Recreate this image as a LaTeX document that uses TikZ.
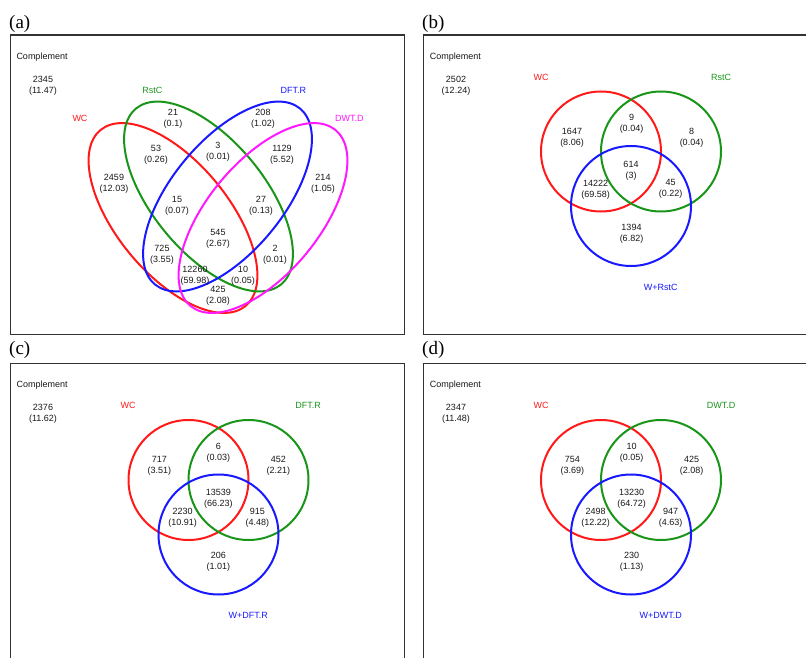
\documentclass[tikz,border=0pt]{standalone}
\usepackage{fontspec}
\setmainfont{Liberation Sans}
\newfontfamily\panelfont{Liberation Serif}

\definecolor{vred}{RGB}{255,25,25}
\definecolor{vgreen}{RGB}{25,150,25}
\definecolor{vblue}{RGB}{25,25,255}
\definecolor{vmag}{RGB}{255,25,255}
\definecolor{txt}{RGB}{25,25,25}
\definecolor{framec}{RGB}{50,50,50}

\begin{document}
\begin{tikzpicture}[x=1pt,y=-1pt,
  setline/.style={line width=2pt},
  cnt/.style={font=\fontsize{9}{11}\selectfont, text=txt, align=center, inner sep=0pt},
  setname/.style={font=\fontsize{9}{11}\selectfont, inner sep=0pt},
  compl/.style={font=\fontsize{9}{11}\selectfont, text=txt, inner sep=0pt, anchor=base west},
  frame/.style={draw=framec, line width=1.5pt},
  panel/.style={font=\panelfont\fontsize{19}{22}\selectfont, anchor=base west, inner sep=0pt, text=black}]

\useasboundingbox (0,0) rectangle (806,658);
\clip (0,0) rectangle (806,658);
\fill[white] (0,0) rectangle (806,658);

% ---------- panel frames and letters ----------
\draw[frame] (10.7,35) rectangle (404.3,334.3);
\draw[frame] (423.3,35) rectangle (815,334.3);
\draw[frame] (10.7,363.3) rectangle (404.3,670);
\draw[frame] (423.3,363.3) rectangle (815,670);
\node[panel] (pa) at (9,28.5) {(a)};
\node[panel] (pb) at (422,28.5) {(b)};
\node[panel] (pc) at (9,354.5) {(c)};
\node[panel] (pd) at (422,354.5) {(d)};

% ---------- (a) four-set diagram ----------
\draw[setline, vred,  rotate around={-50.5:(173,218)}]   (173,218)   ellipse [x radius=114pt, y radius=56pt];
\draw[setline, vgreen,rotate around={-50.5:(208.5,196.5)}] (208.5,196.5) ellipse [x radius=114pt, y radius=56pt];
\draw[setline, vblue, rotate around={50.5:(227.5,196.5)}]  (227.5,196.5) ellipse [x radius=114pt, y radius=56pt];
\draw[setline, vmag,  rotate around={50.5:(263,218)}]    (263,218)   ellipse [x radius=114pt, y radius=56pt];

\node[compl] (a-comp) at (16.3,59.5) {Complement};
\node[cnt] (a-out) at (43,85.5) {2345\\(11.47)};
\node[setname, text=vgreen] (a-rstc) at (152.3,90.7) {RstC};
\node[setname, text=vblue]  (a-dftr) at (293.3,90.7) {DFT.R};
\node[setname, text=vred]   (a-wc)   at (80,118.3) {WC};
\node[setname, text=vmag]   (a-dwtd) at (349.3,118.3) {DWT.D};

\node[cnt] (a-g)    at (173,119)   {21\\(0.1)};
\node[cnt] (a-b)    at (263,119)   {208\\(1.02)};
\node[cnt] (a-rg)   at (156,154.5) {53\\(0.26)};
\node[cnt] (a-gb)   at (218,151.5) {3\\(0.01)};
\node[cnt] (a-bm)   at (282,154.5) {1129\\(5.52)};
\node[cnt] (a-r)    at (114,184)   {2459\\(12.03)};
\node[cnt] (a-m)    at (323,184)   {214\\(1.05)};
\node[cnt] (a-rgb)  at (177,206)   {15\\(0.07)};
\node[cnt] (a-gbm)  at (261,206)   {27\\(0.13)};
\node[cnt] (a-all)  at (218,238.5) {545\\(2.67)};
\node[cnt] (a-rb)   at (162,255)   {725\\(3.55)};
\node[cnt] (a-gm)   at (275,255)   {2\\(0.01)};
\node[cnt] (a-rbm)  at (195,276)   {12260\\(59.98)};
\node[cnt] (a-rgm)  at (243,276)   {10\\(0.05)};
\node[cnt] (a-rm)   at (218,296)   {425\\(2.08)};

% ---------- (b) WC / RstC / W+RstC ----------
\begin{scope}
\draw[setline, vred]   (601,151.5) circle [radius=60pt];
\draw[setline, vgreen] (661,151.5) circle [radius=60pt];
\draw[setline, vblue]  (631,206)   circle [radius=60pt];
\node[compl] (b-comp) at (429.6,59.5) {Complement};
\node[cnt] (b-out) at (456,85.5) {2502\\(12.24)};
\node[setname, text=vred]   (b-s1) at (541,77.3) {WC};
\node[setname, text=vgreen] (b-s2) at (721,77.3) {RstC};
\node[setname, text=vblue]  (b-s3) at (660.7,287.3) {W+RstC};
\node[cnt] (b-12)  at (631.5,124)   {9\\(0.04)};
\node[cnt] (b-1)   at (572,138)     {1647\\(8.06)};
\node[cnt] (b-2)   at (691.5,138)   {8\\(0.04)};
\node[cnt] (b-123) at (631,170.3)   {614\\(3)};
\node[cnt] (b-13)  at (595.7,189.3) {14222\\(69.58)};
\node[cnt] (b-23)  at (670.7,189.3) {45\\(0.22)};
\node[cnt] (b-3)   at (631.5,233.7) {1394\\(6.82)};
\end{scope}

% ---------- (c) WC / DFT.R / W+DFT.R ----------
\begin{scope}[shift={(-412.5,328.5)}]
\draw[setline, vred]   (601,151.5) circle [radius=60pt];
\draw[setline, vgreen] (661,151.5) circle [radius=60pt];
\draw[setline, vblue]  (631,206)   circle [radius=60pt];
\node[compl] (c-comp) at (429,59) {Complement};
\node[cnt] (c-out) at (455.5,85) {2376\\(11.62)};
\node[setname, text=vred]   (c-s1) at (540.5,76.8) {WC};
\node[setname, text=vgreen] (c-s2) at (720.5,76.8) {DFT.R};
\node[setname, text=vblue]  (c-s3) at (660.8,286.5) {W+DFT.R};
\node[cnt] (c-12)  at (630.8,124)   {6\\(0.03)};
\node[cnt] (c-1)   at (571.8,137.5) {717\\(3.51)};
\node[cnt] (c-2)   at (690.8,137.5) {452\\(2.21)};
\node[cnt] (c-123) at (630.8,170)   {13539\\(66.23)};
\node[cnt] (c-13)  at (595.2,189.2) {2230\\(10.91)};
\node[cnt] (c-23)  at (669.8,189.2) {915\\(4.48)};
\node[cnt] (c-3)   at (630.8,233)   {206\\(1.01)};
\end{scope}

% ---------- (d) WC / DWT.D / W+DWT.D ----------
\begin{scope}[shift={(0,328.5)}]
\draw[setline, vred]   (601,151.5) circle [radius=60pt];
\draw[setline, vgreen] (661,151.5) circle [radius=60pt];
\draw[setline, vblue]  (631,206)   circle [radius=60pt];
\node[compl] (d-comp) at (429.6,59) {Complement};
\node[cnt] (d-out) at (456,85) {2347\\(11.48)};
\node[setname, text=vred]   (d-s1) at (541,76.8) {WC};
\node[setname, text=vgreen] (d-s2) at (721,76.8) {DWT.D};
\node[setname, text=vblue]  (d-s3) at (660.7,286.5) {W+DWT.D};
\node[cnt] (d-12)  at (631.7,124)   {10\\(0.05)};
\node[cnt] (d-1)   at (572.3,137.5) {754\\(3.69)};
\node[cnt] (d-2)   at (691.7,137.5) {425\\(2.08)};
\node[cnt] (d-123) at (631.7,170)   {13230\\(64.72)};
\node[cnt] (d-13)  at (595.7,189.2) {2498\\(12.22)};
\node[cnt] (d-23)  at (670.7,189.2) {947\\(4.63)};
\node[cnt] (d-3)   at (631.7,233)   {230\\(1.13)};
\end{scope}
\end{tikzpicture}
\end{document}
